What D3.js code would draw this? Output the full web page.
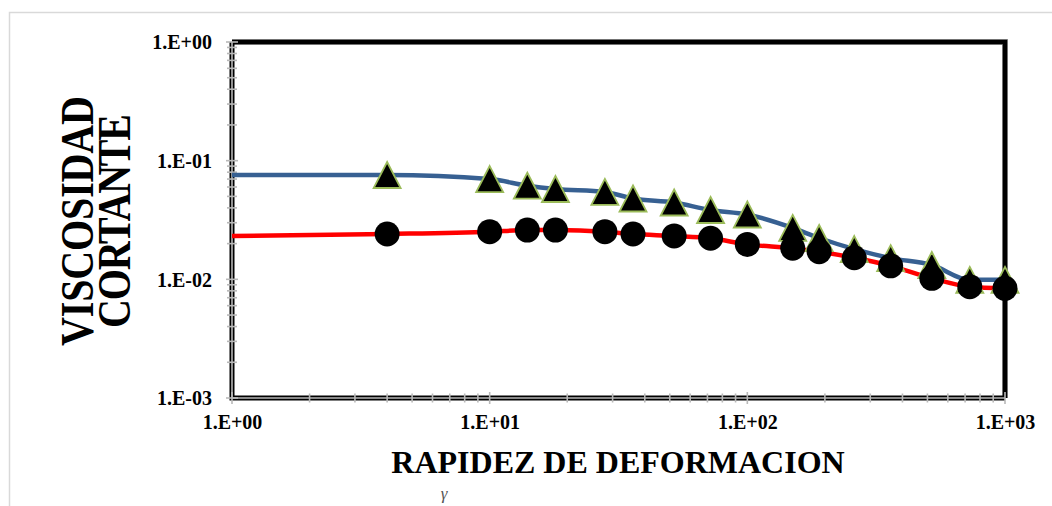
<!DOCTYPE html>
<html>
<head>
<meta charset="utf-8">
<script src="https://cdn.jsdelivr.net/npm/d3@7"></script>
<style>
  body { margin: 0; background: #fff; }
  svg text { font-family: "Liberation Serif", "Times New Roman", serif; font-weight: bold; }
</style>
</head>
<body>
<div id="chart"></div>
<script>
// shear rate (1/s) at each measured point
const rates = [4, 10, 14, 18, 28, 36, 52, 72, 100, 150, 190, 260, 360, 520, 730, 1000];
// viscosity, triangle series
const viscTri = [0.0757, 0.070, 0.0615, 0.0577, 0.0545, 0.048, 0.0444, 0.0384, 0.0352, 0.0271, 0.0223, 0.018, 0.0151, 0.0132, 0.0099, 0.0099];
// viscosity, circle series
const viscCirc = [0.0241, 0.0252, 0.026, 0.026, 0.0252, 0.0241, 0.0232, 0.0222, 0.0197, 0.0183, 0.0171, 0.0152, 0.0130, 0.0102, 0.00867, 0.0084];
// fitted curves start at rate = 1
const fitStartRate = 1;
const fitStartTri = 0.0757;
const fitStartCirc = 0.0232;
const xTicks = [1, 10, 100, 1000];
const yTicks = [0.001, 0.01, 0.1, 1];

document.addEventListener('DOMContentLoaded', () => {
    const width = 1052, height = 506;
    const svg = d3.select('#chart').append('svg')
        .attr('width', width)
        .attr('height', height);

    // light outer frame
    svg.append('rect')
        .attr('x', 9.5).attr('y', 12.5)
        .attr('width', width + 20).attr('height', height + 20)
        .attr('fill', 'none')
        .attr('stroke', '#d9d9d9')
        .attr('stroke-width', 1.5);

    const x = d3.scaleLog().domain([1, 1000]).range([232, 1005]);
    const y = d3.scaleLog().domain([0.001, 1]).range([398, 42]);

    const fmt = v => {
        const p = Math.round(Math.log10(v));
        return '1.E' + (p < 0 ? '-' : '+') + String(Math.abs(p)).padStart(2, '0');
    };

    // top and right frame: thick black
    const frame = `M${x(1)},${y(1)} H${x(1000)} V${y(0.001)}`;
    svg.append('path').attr('d', frame)
        .attr('fill', 'none').attr('stroke', '#9a9a9a').attr('stroke-width', 6);
    svg.append('path').attr('d', frame)
        .attr('fill', 'none').attr('stroke', '#000').attr('stroke-width', 4.5);

    // left and bottom axes: double line look
    const axisPath = `M${x(1)},${y(1)} V${y(0.001)} H${x(1000)}`;
    svg.append('path').attr('d', axisPath)
        .attr('fill', 'none').attr('stroke', '#000').attr('stroke-width', 5);
    svg.append('path').attr('d', axisPath)
        .attr('fill', 'none').attr('stroke', '#b5b5b5').attr('stroke-width', 1.6);

    // minor and major ticks, gray, crossing the axis
    const xMinor = x.ticks(30).filter(v => v >= 1 && v <= 1000);
    const yMinor = y.ticks(30).filter(v => v >= 0.001 && v <= 1);
    const tickG = svg.append('g').attr('stroke', '#b8b8b8').attr('stroke-width', 1.6);
    tickG.selectAll('.xt').data(xMinor).enter().append('line')
        .attr('x1', d => x(d)).attr('x2', d => x(d))
        .attr('y1', d => y(0.001) - (xTicks.includes(d) ? 6 : 4.5))
        .attr('y2', d => y(0.001) + (xTicks.includes(d) ? 6 : 4.5));
    tickG.selectAll('.yt').data(yMinor).enter().append('line')
        .attr('y1', d => y(d)).attr('y2', d => y(d))
        .attr('x1', d => x(1) - (yTicks.includes(d) ? 6 : 5))
        .attr('x2', d => x(1) + (yTicks.includes(d) ? 6 : 5));

    // tick labels via d3 axes
    const xAxis = svg.append('g')
        .attr('transform', `translate(0,${y(0.001)})`)
        .call(d3.axisBottom(x).tickValues(xTicks).tickFormat(fmt).tickSize(0).tickPadding(31));
    const yAxis = svg.append('g')
        .attr('transform', `translate(${x(1)},0)`)
        .call(d3.axisLeft(y).tickValues(yTicks).tickFormat(fmt).tickSize(0).tickPadding(20));
    [xAxis, yAxis].forEach(a => {
        a.select('.domain').remove();
        a.selectAll('text')
            .attr('fill', '#000')
            .style('font-size', '20px')
            .style('font-family', '"Liberation Serif", serif')
            .style('font-weight', 'bold');
    });
    xAxis.selectAll('text').attr('dy', '0');
    yAxis.selectAll('text').attr('dy', '0.34em');

    // fitted curves
    const line = d3.line()
        .x(d => x(d[0]))
        .y(d => y(d[1]))
        .curve(d3.curveMonotoneX);
    const triLine = [[fitStartRate, fitStartTri]].concat(rates.map((r, i) => [r, viscTri[i]]));
    const circLine = [[fitStartRate, fitStartCirc]].concat(rates.map((r, i) => [r, viscCirc[i]]));

    svg.append('path').datum(triLine)
        .attr('d', line)
        .attr('fill', 'none')
        .attr('stroke', '#376092')
        .attr('stroke-width', 4.5);
    svg.append('path').datum(circLine)
        .attr('d', line)
        .attr('fill', 'none')
        .attr('stroke', '#ff0000')
        .attr('stroke-width', 4.5);

    // triangle markers (27 wide, 26 tall)
    const triShape = {
        draw(ctx) {
            ctx.moveTo(0, -13);
            ctx.lineTo(13.5, 13);
            ctx.lineTo(-13.5, 13);
            ctx.closePath();
        }
    };
    svg.append('g').selectAll('path')
        .data(rates.map((r, i) => [r, viscTri[i]]))
        .enter().append('path')
        .attr('d', d3.symbol().type(triShape))
        .attr('transform', d => `translate(${x(d[0])},${y(d[1])})`)
        .attr('fill', '#000')
        .attr('stroke', '#9bbb59')
        .attr('stroke-width', 1.8);

    // circle markers
    svg.append('g').selectAll('circle')
        .data(rates.map((r, i) => [r, viscCirc[i]]))
        .enter().append('circle')
        .attr('cx', d => x(d[0]))
        .attr('cy', d => y(d[1]))
        .attr('r', 12.5)
        .attr('fill', '#000');

    // axis titles
    svg.append('text')
        .attr('x', 618).attr('y', 473)
        .attr('text-anchor', 'middle')
        .style('font-size', '32px')
        .text('RAPIDEZ DE DEFORMACION');

    const yTitle = svg.append('text')
        .attr('transform', 'translate(93,221) rotate(-90) scale(1,1.15)')
        .attr('text-anchor', 'middle')
        .style('font-size', '40px');
    yTitle.append('tspan').attr('x', 0).attr('y', 0).attr('textLength', 250).text('VISCOSIDAD');
    yTitle.append('tspan').attr('x', 0).attr('y', 32).attr('textLength', 214).text('CORTANTE');

    svg.append('text')
        .attr('x', 444).attr('y', 499)
        .attr('text-anchor', 'middle')
        .attr('fill', '#555')
        .style('font-size', '17px')
        .style('font-style', 'italic')
        .style('font-weight', 'normal')
        .text('γ');
});
</script>
</body>
</html>
